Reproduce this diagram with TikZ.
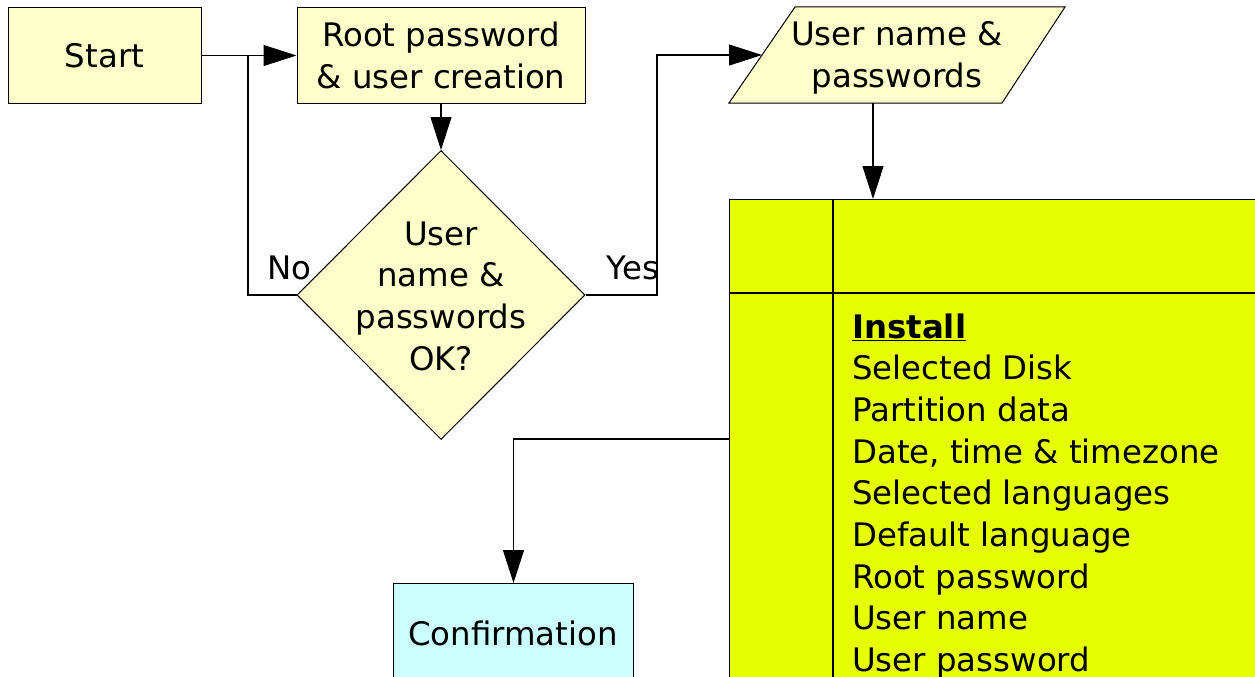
\documentclass[tikz,border=0pt]{standalone}
\usepackage{fontspec}
\setmainfont{DejaVu Sans}
\usetikzlibrary{arrows.meta,shapes.geometric}
\definecolor{paleyellow}{HTML}{FFFFCC}
\definecolor{limey}{HTML}{E6FF00}
\definecolor{palecyan}{HTML}{CCFFFF}
\begin{document}
\begin{tikzpicture}[x=1pt,y=-1pt,
  every node/.style={font=\fontsize{32.4}{41.7}\selectfont},
  box/.style={draw=black,line width=1pt,fill=paleyellow,rectangle,inner sep=0pt,align=center},
  conn/.style={draw=black,line width=1.1pt},
  arr/.style={conn,-{Triangle[length=33pt,width=21pt]}},
  lbl/.style={inner sep=0pt},
  item/.style={anchor=base west,inner sep=0pt}]
\useasboundingbox (0,0) rectangle (1255,677);
\begin{scope}
\clip (0,0) rectangle (1255,677);
% table
\node (tbl) [draw=black,line width=1.1pt,fill=limey,rectangle,inner sep=0pt,minimum width=560pt,minimum height=520pt,anchor=north west] at (729,199) {};
\draw[line width=1.1pt] (833,199) -- (833,720);
\draw[line width=1.1pt] (729,293) -- (1300,293);
\node[item] (t1) at (852,338) {\underline{\textbf{Install}}};
\node[item] (t2) at (852,379.7) {Selected Disk};
\node[item] (t3) at (852,421.4) {Partition data};
\node[item] (t4) at (852,463.1) {Date, time \& timezone};
\node[item] (t5) at (852,504.8) {Selected languages};
\node[item] (t6) at (852,546.5) {Default language};
\node[item] (t7) at (852,588.2) {Root password};
\node[item] (t8) at (852,629.9) {User name};
\node[item] (t9) at (852,671.6) {User password};
% confirmation
\node (conf) [draw=black,line width=1pt,fill=palecyan,rectangle,inner sep=0pt,minimum width=240pt,minimum height=200pt,anchor=north west] at (393,583) {};
\node (conftext) at (513,633) {Confirmation};
\end{scope}
% start
\node (start) [box,minimum width=193pt,minimum height=95pt] at (104.5,55.5) {Start};
\node (root) [box,minimum width=288pt,minimum height=95pt] at (441,55.5) {Root password\\\& user creation};
% diamond
\node (dia) [diamond,draw=black,line width=1pt,fill=paleyellow,inner sep=0pt,minimum width=288pt,minimum height=289pt] at (441,295) {};
\node (diatext) [align=center,inner sep=0pt] at (441,296) {User\\name \&\\passwords\\OK?};
% parallelogram
\coordinate (pTL) at (795,7);
\coordinate (pTR) at (1065,7);
\coordinate (pBR) at (1002,103);
\coordinate (pBL) at (729,103);
\draw[line width=1pt,fill=paleyellow] (pTL) -- (pTR) -- (pBR) -- (pBL) -- cycle;
\node (para) [align=center,inner sep=0pt] at (897,58) {User name \&\\passwords};
\coordinate (paraIn) at (762,55);
\coordinate (paraOut) at (873,103);
% connectors
\coordinate (nojoin) at (248,55);
\coordinate (yesx) at (657,295);
\coordinate (tblTop) at (873,199);
\coordinate (tblOut) at (729,439);
\draw[arr] (start.east) -- (root.west);
\draw[arr] (root.south) -- (dia.north);
\draw[conn] (dia.west) -| (nojoin);
\draw[arr] (dia.east) -- (yesx) |- (paraIn);
\draw[arr] (paraOut) -- (tblTop);
\draw[arr] (tblOut) -| (conf.north);
% labels
\node (no) [lbl] at (289.5,268) {No};
\node (yes) [lbl] at (633,268) {Yes};
\end{tikzpicture}
\end{document}
